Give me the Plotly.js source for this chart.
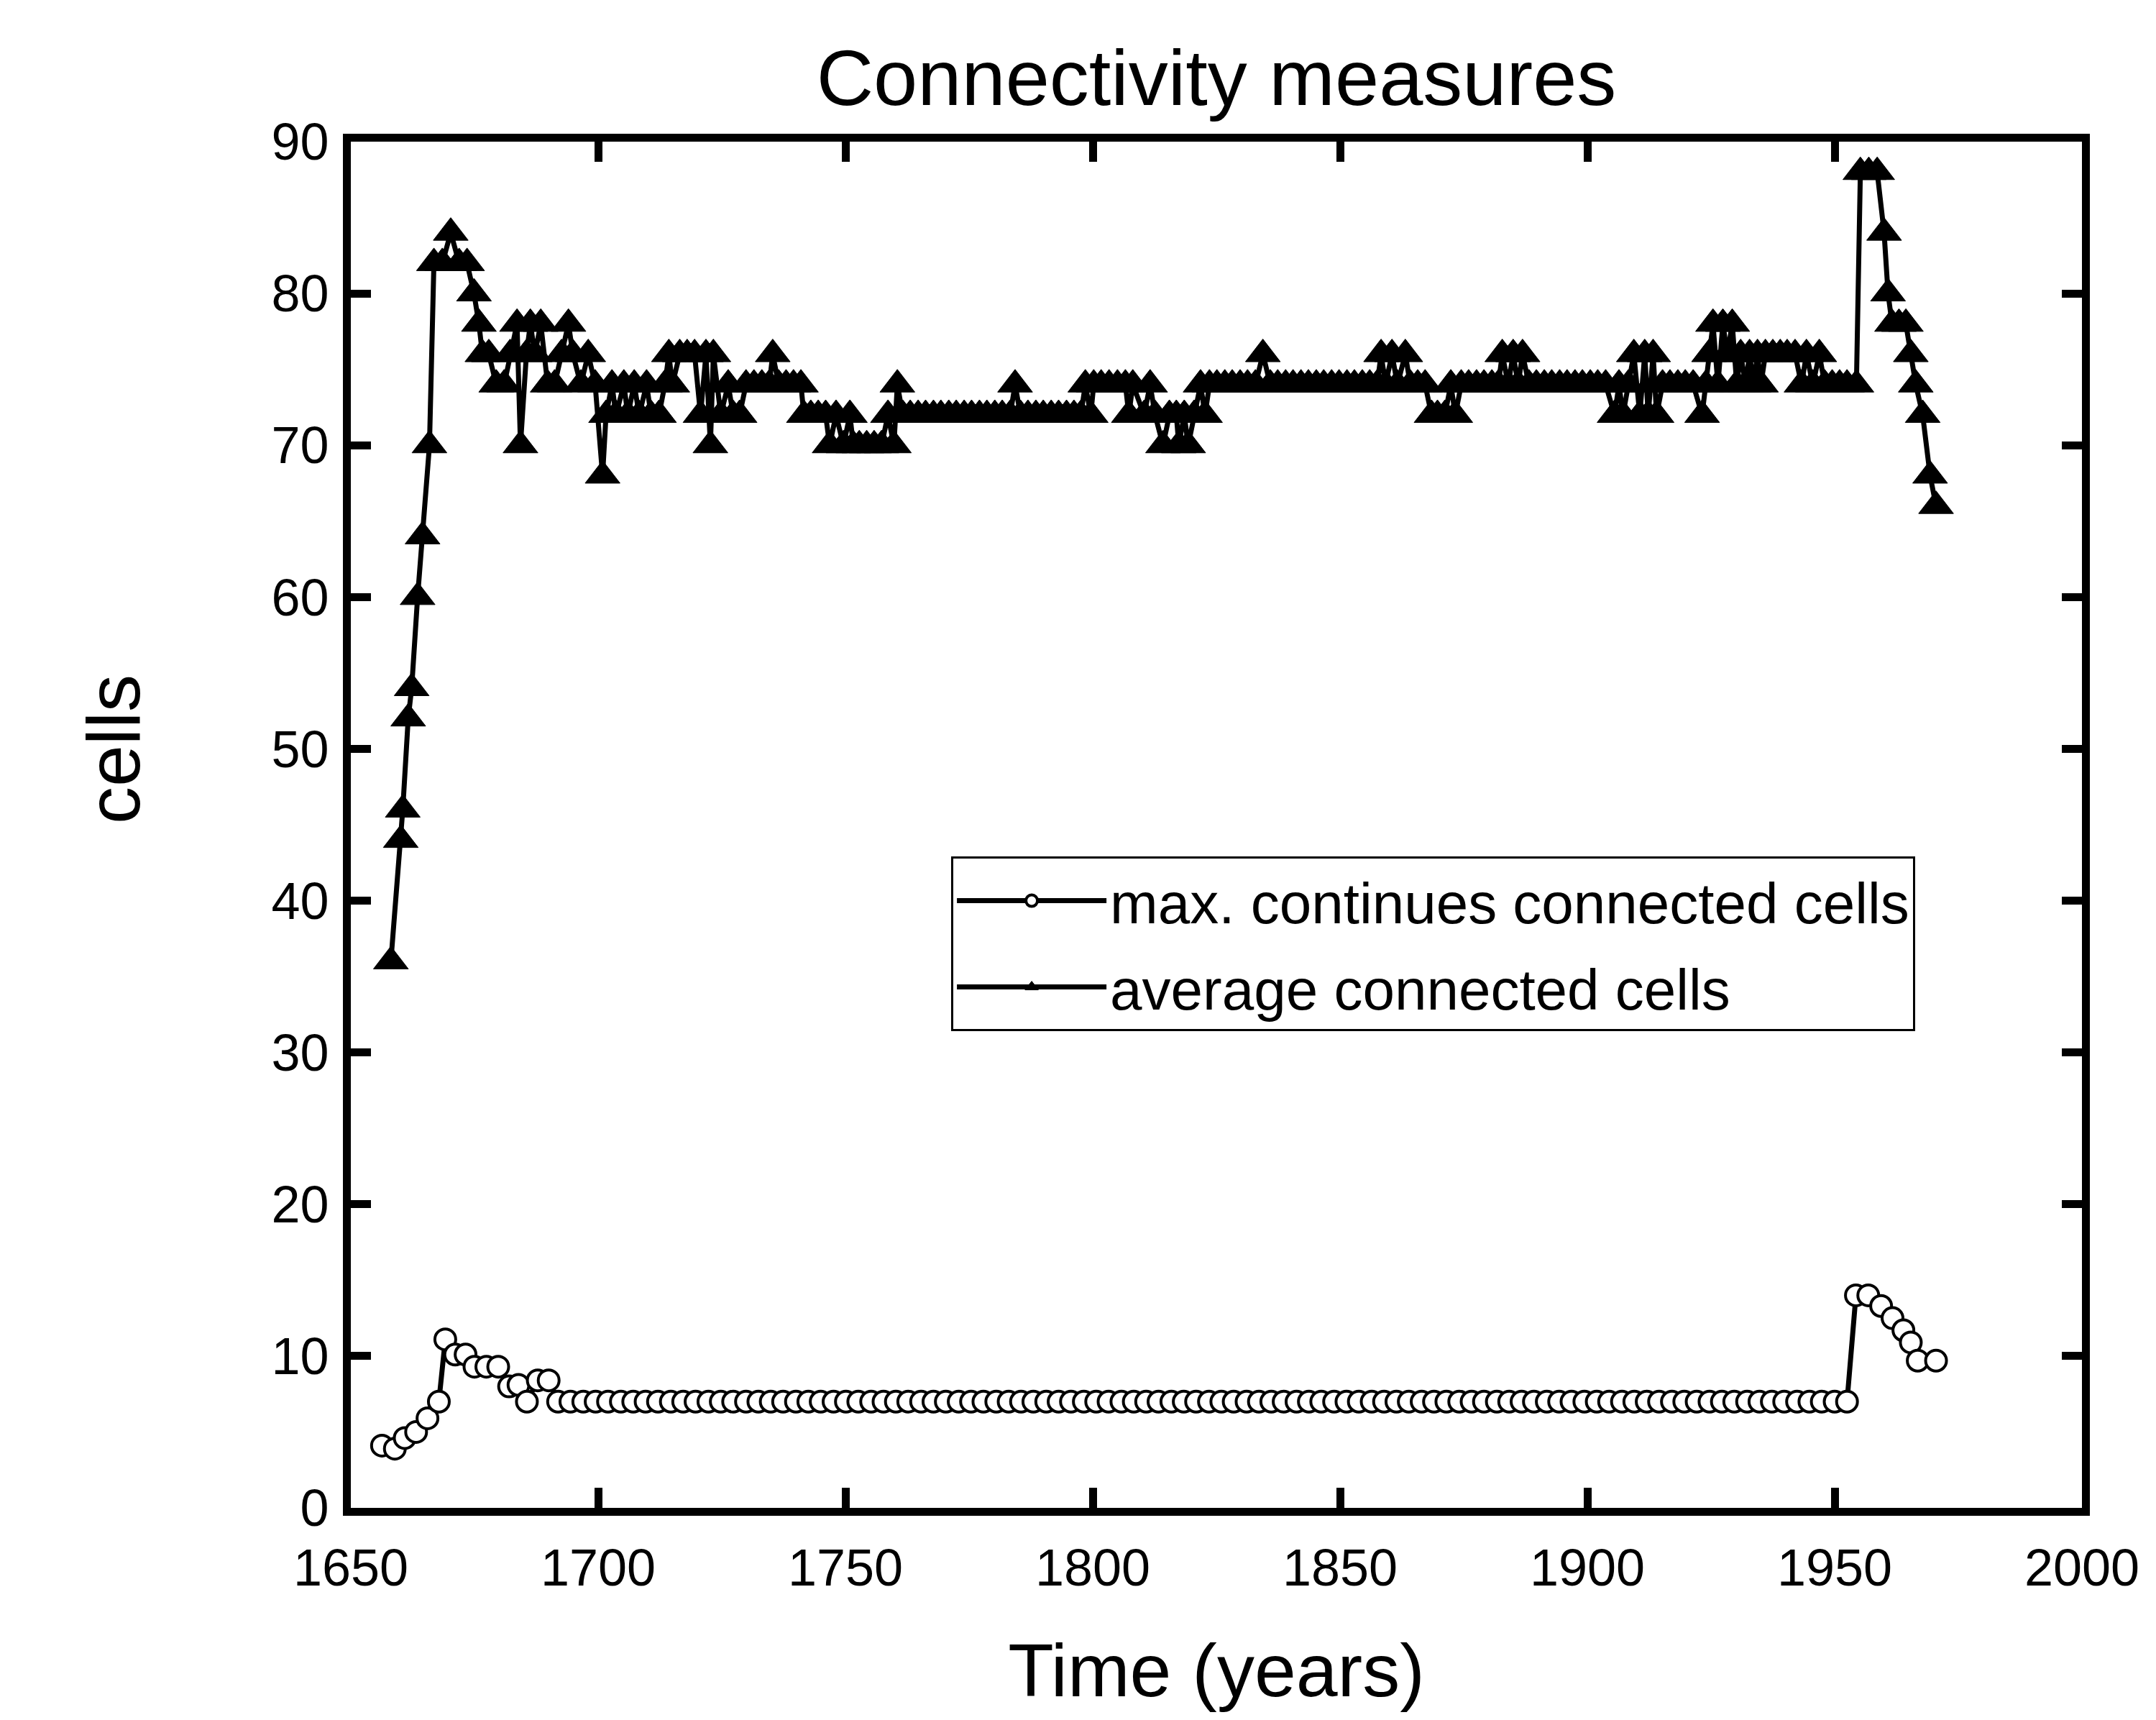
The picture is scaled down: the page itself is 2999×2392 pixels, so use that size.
<!DOCTYPE html>
<html>
<head>
<meta charset="utf-8">
<script src="https://cdn.plot.ly/plotly-3.0.1.min.js"></script>
<style>
  html, body { margin: 0; padding: 0; background: #ffffff; }
  #chart { width: 2999px; height: 2392px; }
</style>
</head>
<body>
<div id="chart"></div>
<script>
// ---- Data ----
const xTicks = [1650, 1700, 1750, 1800, 1850, 1900, 1950, 2000];
const yTicks = [0, 10, 20, 30, 40, 50, 60, 70, 80, 90];

const seriesNames = ["max. continues connected cells", "average connected cells"];

// max. continues connected cells (open circles)
const maxYears = [
  1656.3, 1658.9, 1660.9, 1663.2, 1665.5, 1667.8, 1669.1, 1671.1, 1673.2, 1675.0,
  1677.4, 1679.8, 1682.0, 1683.9, 1685.6, 1687.8, 1690.0,
  1691.9, 1694.4, 1697.0, 1699.5, 1702.0, 1704.6, 1707.1, 1709.6, 1712.1, 1714.7, 1717.2, 1719.7, 1722.3,
  1724.8, 1727.3, 1729.9, 1732.4, 1734.9, 1737.4, 1740.0, 1742.5, 1745.0, 1747.6, 1750.1, 1752.6, 1755.2,
  1757.7, 1760.2, 1762.7, 1765.3, 1767.8, 1770.3, 1772.9, 1775.4, 1777.9, 1780.5, 1783.0, 1785.5, 1788.0,
  1790.6, 1793.1, 1795.6, 1798.2, 1800.7, 1803.2, 1805.8, 1808.3, 1810.8, 1813.3, 1815.9, 1818.4, 1820.9,
  1823.5, 1826.0, 1828.5, 1831.1, 1833.6, 1836.1, 1838.6, 1841.2, 1843.7, 1846.2, 1848.8, 1851.3, 1853.8,
  1856.4, 1858.9, 1861.4, 1863.9, 1866.5, 1869.0, 1871.5, 1874.1, 1876.6, 1879.1, 1881.7, 1884.2, 1886.7,
  1889.2, 1891.8, 1894.3, 1896.8, 1899.4, 1901.9, 1904.4, 1907.0, 1909.5, 1912.0, 1914.5, 1917.1, 1919.6,
  1922.1, 1924.7, 1927.2, 1929.7, 1932.3, 1934.8, 1937.3, 1939.8, 1942.4, 1944.9, 1947.4, 1950.0, 1952.5,
  1954.3, 1956.8, 1959.4, 1961.7, 1963.9, 1965.4, 1966.8, 1970.5
];
const maxCells = [
  4.1, 3.9, 4.6, 5.0, 5.9, 7.0, 11.1, 10.1, 10.1, 9.3,
  9.3, 9.3, 8.0, 8.1, 7.0, 8.4, 8.4,
  7, 7, 7, 7, 7, 7, 7, 7, 7, 7, 7, 7, 7,
  7, 7, 7, 7, 7, 7, 7, 7, 7, 7, 7, 7, 7,
  7, 7, 7, 7, 7, 7, 7, 7, 7, 7, 7, 7, 7,
  7, 7, 7, 7, 7, 7, 7, 7, 7, 7, 7, 7, 7,
  7, 7, 7, 7, 7, 7, 7, 7, 7, 7, 7, 7, 7,
  7, 7, 7, 7, 7, 7, 7, 7, 7, 7, 7, 7, 7,
  7, 7, 7, 7, 7, 7, 7, 7, 7, 7, 7, 7, 7,
  7, 7, 7, 7, 7, 7, 7, 7, 7, 7, 7, 7, 7,
  14.0, 14.0, 13.3, 12.5, 11.7, 10.9, 9.7, 9.7
];

// average connected cells (filled triangles)
const avgYears = [
  1658.1, 1660.1, 1660.5, 1661.6, 1662.3, 1663.5, 1664.5, 1665.9, 1666.8, 1668.5,
  1670.2, 1671.9, 1673.5, 1674.9, 1675.9, 1676.6, 1677.9, 1679.4, 1681.0, 1682.2,
  1683.6, 1684.3, 1685.5, 1686.3, 1687.2, 1688.4, 1689.8, 1691.2, 1692.6, 1694.0,
  1694.9, 1696.5, 1698.0, 1699.4, 1700.9, 1701.6, 1702.8, 1703.6, 1705.2, 1706.0,
  1707.3, 1708.3, 1709.8, 1710.7, 1712.3, 1713.5, 1714.3, 1715.0, 1716.5, 1718.0,
  1719.5, 1720.7, 1721.8, 1722.7, 1723.3, 1724.8, 1726.3, 1727.3, 1728.6, 1729.9,
  1731.5, 1733.1, 1734.6, 1735.3, 1736.5, 1738.0, 1739.5, 1741.0, 1741.6, 1743.0,
  1744.5, 1746.0, 1746.8, 1748.1, 1749.6, 1750.9, 1751.6, 1752.8, 1754.3, 1755.8,
  1757.3, 1758.6, 1759.8, 1760.5, 1761.6, 1763.1, 1764.7, 1766.2, 1767.8, 1769.3,
  1770.9, 1772.4, 1774.0, 1775.5, 1777.1, 1778.6, 1780.2, 1781.7, 1783.3, 1784.3,
  1785.4, 1786.9, 1788.5, 1790.0, 1791.6, 1793.1, 1794.7, 1796.2, 1797.6, 1798.5,
  1799.6, 1800.2, 1801.7, 1803.3, 1805.0, 1806.6, 1807.3, 1808.1, 1810.4, 1811.6,
  1812.6, 1814.2, 1815.5, 1816.9, 1817.4, 1818.5, 1819.3, 1820.5, 1821.8, 1822.7,
  1823.6, 1825.1, 1826.7, 1828.2, 1829.8, 1831.3, 1832.9, 1834.4, 1835.9, 1837.4,
  1839.0, 1840.5, 1842.1, 1843.6, 1845.2, 1846.7, 1848.3, 1849.8, 1851.4, 1852.9,
  1854.5, 1856.0, 1857.5, 1858.3, 1859.2, 1860.5, 1861.6, 1863.2, 1864.2, 1865.7,
  1867.2, 1868.5, 1869.7, 1871.2, 1872.4, 1873.3, 1874.5, 1876.0, 1877.6, 1879.1,
  1880.7, 1882.0, 1882.8, 1884.0, 1885.0, 1886.0, 1886.9, 1888.2, 1889.7, 1891.3,
  1892.8, 1894.4, 1895.9, 1897.5, 1899.0, 1900.6, 1902.1, 1903.7, 1905.5, 1906.4,
  1907.2, 1908.3, 1909.4, 1910.6, 1911.6, 1912.3, 1913.3, 1914.0, 1915.2, 1916.7,
  1918.3, 1919.8, 1921.4, 1923.2, 1924.0, 1924.6, 1925.4, 1926.4, 1927.4, 1928.3,
  1929.3, 1930.2, 1931.0, 1932.0, 1932.8, 1933.6, 1934.4, 1935.1, 1936.0, 1937.5,
  1939.0, 1940.4, 1942.0, 1943.3, 1944.3, 1945.6, 1946.9, 1948.0, 1949.5, 1951.0,
  1952.5, 1954.4, 1955.2, 1956.9, 1958.6, 1960.0, 1960.8, 1961.6, 1963.0, 1964.4,
  1965.4, 1966.4, 1967.8, 1969.3, 1970.5
];
const avgCells = [
  36, 44, 46, 52, 54, 60, 64, 70, 82, 82,
  84, 82, 82, 80, 78, 76, 76, 74, 74, 76,
  78, 70, 76, 78, 76, 78, 74, 74, 76, 78,
  76, 74, 76, 74, 68, 72, 74, 72, 74, 72,
  74, 72, 74, 72, 72, 74, 76, 74, 76, 76,
  76, 72, 76, 70, 76, 72, 74, 72, 72, 74,
  74, 74, 74, 76, 74, 74, 74, 74, 72, 72,
  72, 72, 70, 72, 70, 72, 70, 70, 70, 70,
  70, 72, 70, 74, 72, 72, 72, 72, 72, 72,
  72, 72, 72, 72, 72, 72, 72, 72, 72, 74,
  72, 72, 72, 72, 72, 72, 72, 72, 72, 74,
  72, 74, 74, 74, 74, 74, 72, 74, 72, 74,
  72, 70, 72, 72, 70, 72, 70, 72, 74, 72,
  74, 74, 74, 74, 74, 74, 74, 76, 74, 74,
  74, 74, 74, 74, 74, 74, 74, 74, 74, 74,
  74, 74, 74, 76, 74, 76, 74, 76, 74, 74,
  74, 72, 72, 72, 74, 72, 74, 74, 74, 74,
  74, 74, 76, 74, 76, 74, 76, 74, 74, 74,
  74, 74, 74, 74, 74, 74, 74, 74, 72, 74,
  72, 74, 76, 72, 76, 72, 76, 72, 74, 74,
  74, 74, 74, 72, 74, 76, 78, 74, 78, 76,
  78, 74, 76, 74, 76, 74, 76, 74, 76, 76,
  76, 76, 76, 74, 76, 74, 76, 74, 74, 74,
  74, 74, 88, 88, 88, 84, 80, 78, 78, 78,
  76, 74, 72, 68, 66
];

// ---- Chart ----
const FONT = "Liberation Sans, Arial, Helvetica, sans-serif";

const traces = [
  {
    type: "scatter",
    mode: "lines+markers",
    name: seriesNames[0],
    legendgroup: "a",
    x: maxYears,
    y: maxCells,
    line: { color: "#000000", width: 7 },
    marker: { symbol: "circle", size: 29, color: "#ffffff", line: { color: "#000000", width: 4 } }
  },
  {
    type: "scatter",
    mode: "lines+markers",
    name: seriesNames[1],
    legendgroup: "b",
    x: avgYears,
    y: avgCells,
    line: { color: "#000000", width: 7 },
    marker: { symbol: "triangle-up", size: 42, color: "#000000", line: { color: "#000000", width: 1 } }
  }
];

const axisCommon = {
  showgrid: false,
  zeroline: false,
  showline: true,
  linecolor: "#000000",
  linewidth: 11,
  mirror: "ticks",
  ticks: "inside",
  ticklen: 28,
  tickwidth: 11,
  tickcolor: "#000000",
  tickfont: { family: FONT, size: 72, color: "#000000" }
};

const layout = {
  width: 2999,
  height: 2392,
  paper_bgcolor: "#ffffff",
  plot_bgcolor: "#ffffff",
  margin: { l: 488, r: 103, t: 197, b: 295, pad: 0 },
  showlegend: true,
  title: {
    text: "Connectivity measures",
    font: { family: FONT, size: 110, color: "#000000" },
    x: 0.5, xref: "paper", xanchor: "center",
    y: 0.955, yref: "container", yanchor: "middle"
  },
  xaxis: Object.assign({}, axisCommon, {
    range: [1650, 2000],
    tickvals: xTicks,
    ticktext: xTicks.map(String),
    ticklabelstandoff: 11,
    title: { text: "Time (years)", font: { family: FONT, size: 104, color: "#000000" }, standoff: 71 }
  }),
  yaxis: Object.assign({}, axisCommon, {
    range: [0, 90],
    tickvals: yTicks,
    ticktext: yTicks.map(String),
    ticklabelstandoff: 5
  }),
  annotations: [
    {
      text: "cells",
      xref: "paper", yref: "paper",
      x: -0.1370, y: 0.5553,
      xanchor: "center", yanchor: "middle",
      textangle: -90,
      showarrow: false,
      font: { family: FONT, size: 104, color: "#000000" }
    }
  ],
  legend: {
    x: 0.3468, xanchor: "left", xref: "paper",
    y: 0.4768, yanchor: "top", yref: "paper",
    bgcolor: "#ffffff",
    bordercolor: "#000000",
    borderwidth: 3,
    font: { family: FONT, size: 80, color: "#000000" },
    itemwidth: 208,
    tracegroupgap: 13,
    traceorder: "grouped"
  }
};

Plotly.newPlot("chart", traces, layout, { displayModeBar: false, staticPlot: true });
</script>
</body>
</html>
